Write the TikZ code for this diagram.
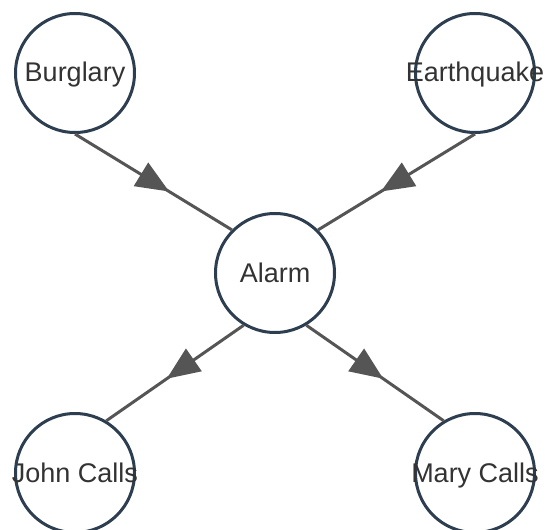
\documentclass[tikz,border=0pt]{standalone}
\usepackage{fontspec}
\setmainfont{Liberation Sans}
\usepackage{tikz}
\usetikzlibrary{arrows.meta,decorations.markings}

\definecolor{ringcol}{HTML}{2C3E50}
\definecolor{edgecol}{HTML}{555555}
\definecolor{txtcol}{HTML}{333333}

\begin{document}
\begin{tikzpicture}[
  x=1pt, y=-1pt,
  font=\fontsize{27}{32}\selectfont,
  var/.style={circle, draw=ringcol, line width=3pt, fill=white, inner sep=0pt,
              minimum size=119pt,
              label={[txtcol, text height=18pt, text depth=0pt]center:#1}},
  arr/.style={draw=edgecol, line width=3pt,
              postaction={decorate, decoration={markings,
                mark=at position #1 with {\arrow{Triangle[length=33pt,width=27pt]}}}}},
  arr/.default=0.6,
]
\useasboundingbox (0,0) rectangle (545,529);
% ---------------- causes -----------------
\node[var=Burglary] (bur) at (75,73) {};
\node[var=Earthquake] (eq) at (475,73) {};
% ---------------- alarm -----------------
\node[var=Alarm] (alm) at (275,273) {};
% ---------------- calls -----------------
\node[var=John Calls] (john) at (75,473) {};
\node[var=Mary Calls] (mary) at (475,473) {};
\draw[arr] (bur.270) -- (alm.135);
\draw[arr] (eq.270) -- (alm.45);
\draw[arr=0.56] (alm.239) -- (john.59);
\draw[arr=0.56] (alm.301) -- (mary.121);
\end{tikzpicture}
\end{document}
